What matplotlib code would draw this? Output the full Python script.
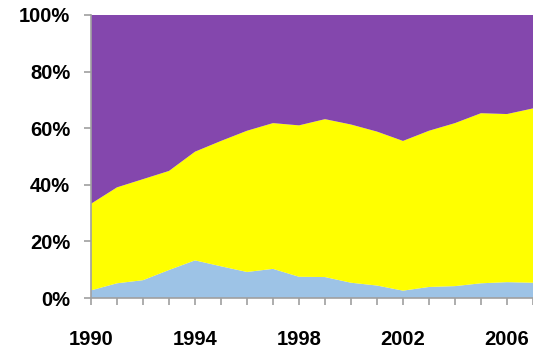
import matplotlib
matplotlib.use("Agg")
import matplotlib.pyplot as plt
import numpy as np

plt.rcParams['font.family'] = ['Liberation Sans', 'DejaVu Sans']

years = list(range(1990, 2008))
# share of each component, percent
share_blue = [2.7, 5.2, 6.3, 9.9, 13.3, 11.2, 9.2, 10.3, 7.5, 7.4,
              5.4, 4.4, 2.6, 3.9, 4.2, 5.2, 5.6, 5.4]
share_total_lower = [33.3, 39.1, 42.0, 44.9, 51.7, 55.5, 59.1, 61.8, 61.0, 63.2,
                     61.3, 58.8, 55.5, 59.1, 61.8, 65.3, 65.0, 67.0]
share_yellow = [t - b for t, b in zip(share_total_lower, share_blue)]
share_purple = [100 - t for t in share_total_lower]

y_ticks = [0, 20, 40, 60, 80, 100]
y_tick_labels = ["0%", "20%", "40%", "60%", "80%", "100%"]
x_label_years = [1990, 1994, 1998, 2002, 2006]

colors = ["#9DC3E6", "#FFFF00", "#8447AD"]

fig = plt.figure(figsize=(5.33, 3.5), dpi=100)
ax = fig.add_axes([91 / 533, 52 / 350, 442 / 533, 283 / 350])

ax.stackplot(years, share_blue, share_yellow, share_purple,
             colors=colors, linewidth=0)

ax.set_xlim(years[0], years[-1])
ax.set_ylim(0, 100)

ax.set_yticks(y_ticks)
ax.set_yticklabels(y_tick_labels)
ax.set_xticks(years, minor=True)
ax.set_xticks(x_label_years)
ax.set_xticklabels([str(y) for y in x_label_years])

spine_color = "#A0A0A0"
for side in ["top", "right"]:
    ax.spines[side].set_visible(False)
for side in ["left", "bottom"]:
    ax.spines[side].set_color(spine_color)
    ax.spines[side].set_linewidth(1.2)
    ax.spines[side].set_zorder(5)

ax.tick_params(axis="y", which="major", length=5, width=1.2, color=spine_color,
               labelsize=14.5, pad=10)
ax.tick_params(axis="x", which="both", length=5, width=1.2, color=spine_color)
ax.tick_params(axis="x", which="major", labelsize=14.5, pad=18)

for lbl in ax.get_xticklabels() + ax.get_yticklabels():
    lbl.set_fontweight("bold")

fig.savefig("out.png", dpi=100)
